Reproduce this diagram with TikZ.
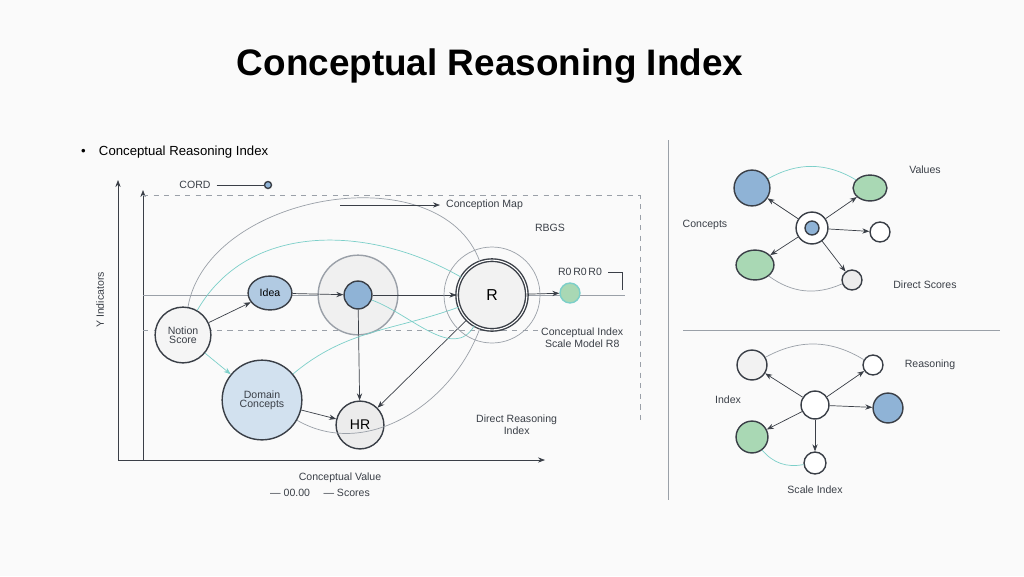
\documentclass[tikz,border=0pt]{standalone}
\usepackage{fontspec}
\setmainfont{Liberation Sans}
\usetikzlibrary{arrows.meta,shapes.geometric}
\definecolor{ink}{HTML}{3A3F47}
\definecolor{soft}{HTML}{9AA0A8}
\definecolor{bluefill}{HTML}{8FB3D6}
\definecolor{greenfill}{HTML}{A9D8B4}
\definecolor{teal}{HTML}{7CCFC9}
\tikzset{
  node/.style={circle, draw=ink, thick, fill=#1, inner sep=0},
  sz/.style={minimum size={#1*0.567pt}},
  lbl/.style={font=\fontsize{6}{7}\selectfont, text=ink, align=center},
  conn/.style={-{Stealth[length=4pt]}, draw=ink, thin},
  arc/.style={draw=soft, thin},
  tealarc/.style={draw=teal, thin},
}
\begin{document}
\begin{tikzpicture}[x=0.02cm, y=-0.02cm]
  \useasboundingbox[fill=white!96!gray] (0,0) rectangle (1024,576);
  \node[font=\bfseries\fontsize{21}{24}\selectfont] (title) at (490,66) {Conceptual Reasoning Index};
  \node[font=\fontsize{7.5}{9}\selectfont, anchor=west] (bullet) at (75,152) {\textbullet\quad Conceptual Reasoning Index};
  % left chart axes
  \draw[-{Stealth[length=4pt]}, ink] (118,460) -- (118,180);
  \draw[-{Stealth[length=4pt]}, ink] (143,460) -- (143,190);
  \draw[-{Stealth[length=4pt]}, ink] (118,460) -- (545,460);
  \draw[dashed, soft] (143,195) -- (640,195) -- (640,420);
  \draw[dashed, soft] (143,330) -- (540,330);
  \draw[soft] (143,295) -- (625,295);
  \node[lbl, rotate=90] (ylab) at (100,300) {Y Indicators};
  \node[lbl] (xlab) at (340,478) {Conceptual Value};
  \node[lbl] (leg) at (320,493) {— 00.00 \quad — Scores};
  % nodes
  \node[node=white!92!gray, sz=56] (src) at (183,335) {};
  \node[lbl] at (183,335) {Notion\\[-2pt]Score};
  \node[node=bluefill!70, ellipse, minimum width={44*0.567pt}, minimum height={34*0.567pt}] (idea) at (270,293) {\fontsize{6}{7}\selectfont Idea};
  \node[node=white!88!gray, sz=80, draw=soft] (hub) at (358,295) {};
  \node[node=bluefill, sz=28] (core) at (358,295) {};
  \node[node=white!90!gray, double, sz=70] (res) at (492,295) {\fontsize{9}{10}\selectfont R};
  \node[node=greenfill, sz=20, draw=teal] (out) at (570,293) {};
  \node[node=bluefill!40, sz=80] (dom) at (262,400) {};
  \node[lbl] at (262,400) {Domain\\[-2pt]Concepts};
  \node[node=white!85!gray, sz=48] (hr) at (360,425) {\fontsize{8}{9}\selectfont HR};
  % connectors
  \draw[conn] (idea) -- (core);
  \draw[conn] (src) -- (idea);
  \draw[conn] (core) -- (hr);
  \draw[conn] (dom) -- (hr);
  \draw[conn] (res) -- (hr);
  \draw[conn] (core) -- (res);
  \draw[conn] (res) -- (out);
  \draw[conn, teal] (src) -- (dom);
  \draw[tealarc] (src) to[out=60, in=150] (res);
  \draw[tealarc] (dom) to[out=40, in=200] (res);
  \draw[tealarc] (core) to[out=-20, in=240] (res);
  \draw[arc] (src) to[out=80, in=110] (res);
  \draw[arc] (dom) to[out=-30, in=-110] (res);
  \draw[arc] (res) circle (48);
  % annotations
  \node[lbl] (a1) at (195,185) {CORD};
  \draw[ink] (a1.east) -- (268,185);
  \node[node=bluefill, sz=7] at (268,185) {};
  \node[lbl, anchor=west] (a2) at (440,205) {Conception Map};
  \draw[conn] (340,205) -- (a2.west);
  \node[lbl] (a3) at (550,228) {RBGS};
  \node[lbl] (a4) at (580,272) {R0\,R0\,R0};
  \draw[ink] (a4.east) -- (622,272) -- (622,290);
  \node[lbl, anchor=west] (a5) at (535,338) {Conceptual Index\\Scale Model R8};
  \node[lbl, anchor=west] (a6) at (470,425) {Direct Reasoning\\Index};
  % right panels
  \draw[soft] (668,140) -- (668,500);
  \draw[soft] (683,330) -- (1000,330);
  \node[node=white, sz=32] (c1) at (812,228) {};
  \node[node=bluefill, sz=14] at (812,228) {};
  \node[node=bluefill, sz=36] (u1) at (752,188) {};
  \node[node=greenfill, ellipse, minimum width={34*0.567pt}, minimum height={26*0.567pt}] (u2) at (870,188) {};
  \node[node=white, sz=20] (u3) at (880,232) {};
  \node[node=greenfill, ellipse, minimum width={38*0.567pt}, minimum height={30*0.567pt}] (u4) at (755,265) {};
  \node[node=white!85!gray, sz=20] (u5) at (852,280) {};
  \foreach \n in {u1,u2,u3,u4,u5} \draw[conn] (c1) -- (\n);
  \draw[tealarc] (u1) to[bend left=30] (u2);
  \draw[arc] (u4) to[bend right=30] (u5);
  \node[lbl] at (925,170) {Values};
  \node[lbl] at (705,225) {Concepts};
  \node[lbl] at (925,285) {Direct Scores};
  \node[node=white, sz=28] (c2) at (815,405) {};
  \node[node=white!90!gray, sz=30] (l1) at (752,365) {};
  \node[node=white, sz=20] (l2) at (873,365) {};
  \node[node=bluefill, sz=30] (l3) at (888,408) {};
  \node[node=greenfill, sz=32] (l4) at (752,437) {};
  \node[node=white, sz=22] (l5) at (815,463) {};
  \foreach \n in {l1,l2,l3,l4,l5} \draw[conn] (c2) -- (\n);
  \draw[arc] (l1) to[bend left=30] (l2);
  \draw[tealarc] (l4) to[bend right=30] (l5);
  \node[lbl] at (728,400) {Index};
  \node[lbl] at (930,365) {Reasoning};
  \node[lbl] at (815,490) {Scale Index};
\end{tikzpicture}
\end{document}
